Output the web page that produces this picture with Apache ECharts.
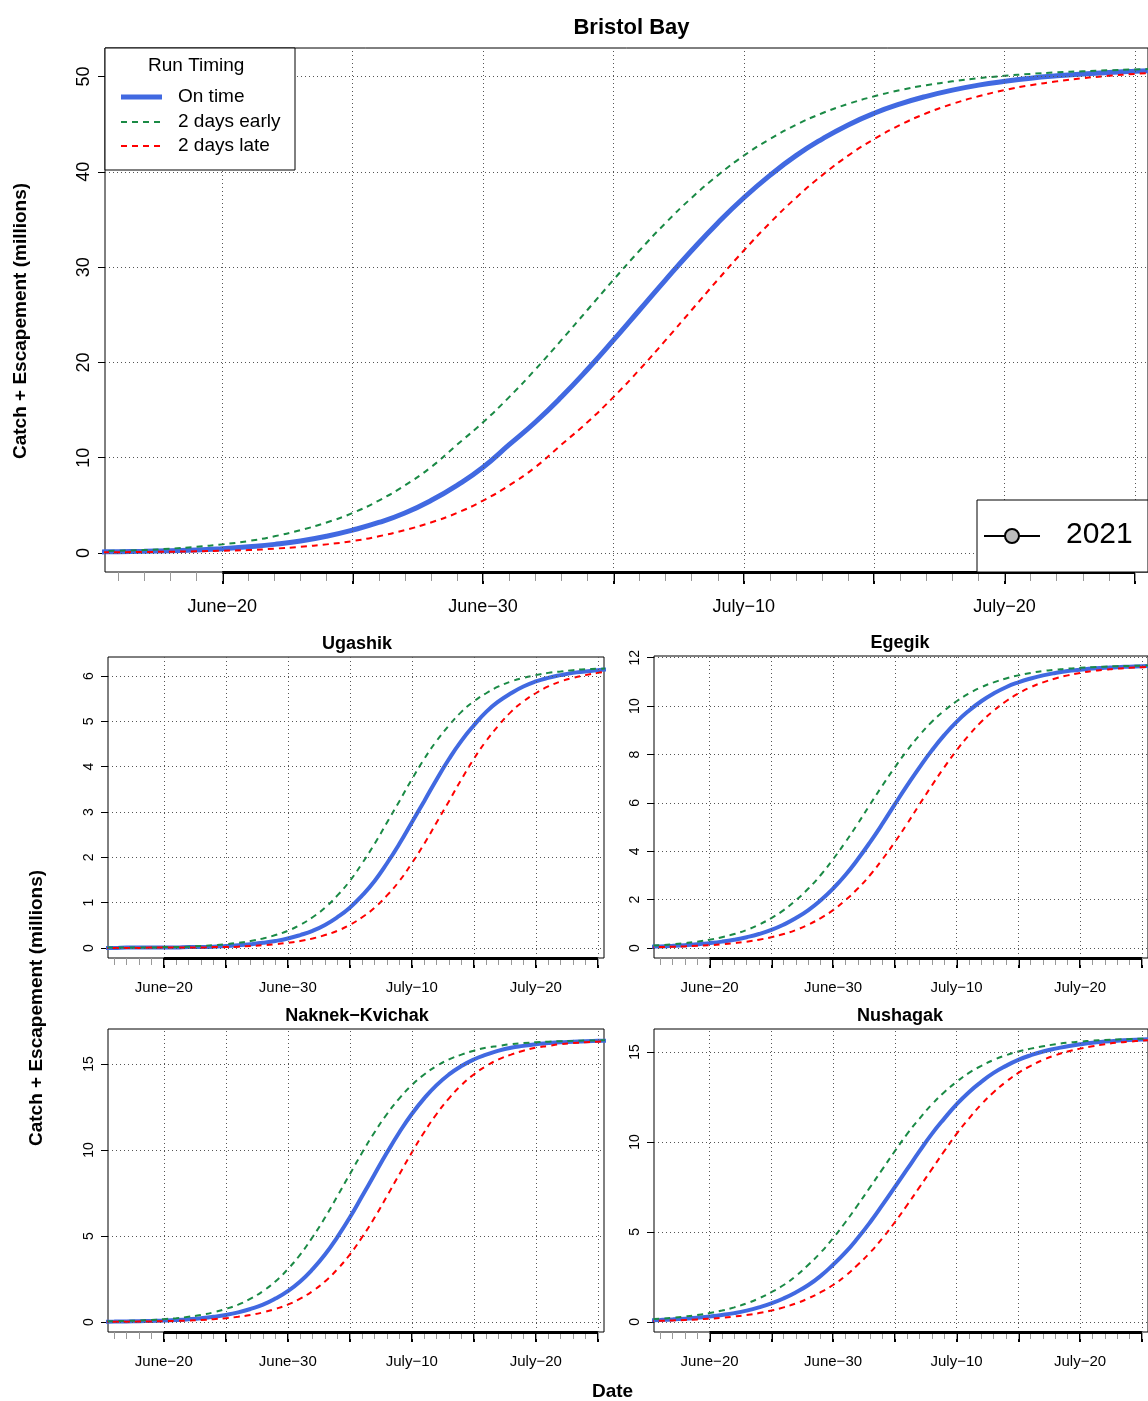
<!DOCTYPE html>
<html>
<head>
<meta charset="utf-8">
<script src="https://cdn.jsdelivr.net/npm/echarts@6/dist/echarts.min.js"></script>
<style>html,body{margin:0;padding:0;background:#fff}#main{width:1148px;height:1401px}</style>
</head>
<body>
<div id="main"></div>
<script>
// days relative to June 20 (0 = June 20)
var days = [-7,-6,-5,-4,-3,-2,-1,0,1,2,3,4,5,6,7,8,9,10,11,12,13,14,15,16,17,18,19,20,21,22,23,24,25,26,27,28,29,30,31,32,33,34,35,36,37,38];
var earlyShift = -2, lateShift = 2;
var dayLabels = ['June\u221220', 'June\u221230', 'July\u221210', 'July\u221220'];
var labelDays = [0, 10, 20, 30];

// on-time cumulative catch + escapement (millions)
var bristol = [0.06,0.08,0.10,0.13,0.17,0.23,0.30,0.45,0.65,0.90,1.25,1.75,2.40,3.20,4.20,5.50,7.10,9.00,11.36,13.72,16.36,19.25,22.33,25.50,28.67,31.74,34.64,37.28,39.63,41.70,43.44,44.93,46.15,47.13,47.93,48.58,49.10,49.50,49.83,50.08,50.28,50.44,50.56,50.66,50.75,50.82];
var ugashik = [0,0,0,0,0.01,0.01,0.01,0.01,0.01,0.02,0.02,0.03,0.046,0.062,0.085,0.115,0.155,0.21,0.286,0.38,0.51,0.68,0.89,1.16,1.48,1.87,2.30,2.77,3.24,3.72,4.17,4.57,4.91,5.21,5.44,5.62,5.77,5.88,5.96,6.02,6.07,6.10,6.13,6.15,6.16,6.17];
var egegik = [0.031,0.041,0.054,0.070,0.092,0.120,0.157,0.205,0.266,0.347,0.45,0.58,0.75,0.97,1.24,1.57,1.98,2.46,3.02,3.67,4.38,5.14,5.94,6.72,7.47,8.17,8.80,9.35,9.81,10.20,10.52,10.78,10.98,11.14,11.27,11.37,11.45,11.50,11.55,11.58,11.61,11.63,11.65,11.66,11.67,11.68];
var naknek = [0.01,0.014,0.019,0.025,0.035,0.048,0.065,0.088,0.12,0.165,0.224,0.304,0.41,0.56,0.76,1.01,1.36,1.80,2.36,3.07,3.92,4.94,6.07,7.32,8.59,9.85,11.03,12.09,13.0,13.77,14.39,14.88,15.26,15.54,15.77,15.94,16.05,16.15,16.21,16.26,16.29,16.32,16.34,16.36,16.37,16.38];
var nushagak = [0.05,0.065,0.084,0.109,0.14,0.18,0.23,0.30,0.385,0.49,0.63,0.81,1.03,1.31,1.65,2.05,2.56,3.18,3.86,4.66,5.54,6.50,7.49,8.49,9.49,10.45,11.30,12.09,12.77,13.34,13.84,14.23,14.56,14.82,15.03,15.19,15.32,15.43,15.52,15.58,15.63,15.67,15.70,15.72,15.74,15.75];

var panels = [
  {name: 'Bristol Bay', vals: bristol, grid: {left: 105, top: 48, width: 1043, height: 524}, ymin: -2, ymax: 53, yticks: [0,10,20,30,40,50], big: true},
  {name: 'Ugashik', vals: ugashik, grid: {left: 108, top: 657, width: 496, height: 301}, ymin: -0.22, ymax: 6.42, yticks: [0,1,2,3,4,5,6]},
  {name: 'Egegik', vals: egegik, grid: {left: 654, top: 656, width: 496, height: 302}, ymin: -0.41, ymax: 12.07, yticks: [0,2,4,6,8,10,12]},
  {name: 'Naknek\u2212Kvichak', vals: naknek, grid: {left: 108, top: 1029, width: 496, height: 303}, ymin: -0.58, ymax: 17.03, yticks: [0,5,10,15]},
  {name: 'Nushagak', vals: nushagak, grid: {left: 654, top: 1029, width: 496, height: 303}, ymin: -0.56, ymax: 16.28, yticks: [0,5,10,15]}
];

var majorDays = [0,5,10,15,20,25,30,35];
var minorDays = [];
for (var d = -4; d <= 35; d++) minorDays.push(d);

var FONT = 'Liberation Sans';
var grids = [], xAxes = [], yAxes = [], series = [], titles = [];

function pairs(shift, vals) {
  return days.map(function (d, i) { return [d + shift, vals[i]]; });
}

panels.forEach(function (p, k) {
  var g = Object.assign({show: true, borderColor: '#000', borderWidth: 1, backgroundColor: 'transparent'}, p.grid);
  grids.push(g);
  var fs = p.big ? 18 : 15;
  // major ticks + labels
  xAxes.push({
    type: 'value', gridIndex: k, min: -4.5, max: 35.5, position: 'bottom',
    axisLine: {show: false, onZero: false}, splitLine: {show: false},
    axisTick: {show: true, customValues: majorDays, length: p.big ? 12 : 10, lineStyle: {color: '#000', width: 2}},
    axisLabel: {customValues: labelDays, formatter: function (v) { return dayLabels[labelDays.indexOf(v)]; },
      fontFamily: FONT, fontSize: fs, color: '#000', margin: p.big ? 26 : 22}
  });
  // minor daily ticks
  xAxes.push({
    type: 'value', gridIndex: k, min: -4.5, max: 35.5, position: 'bottom',
    axisLine: {show: false, onZero: false}, splitLine: {show: false}, axisLabel: {show: false},
    axisTick: {show: true, customValues: minorDays, length: p.big ? 9 : 7, lineStyle: {color: '#999', width: 1}}
  });
  yAxes.push({
    type: 'value', gridIndex: k, min: p.ymin, max: p.ymax, position: 'left',
    axisLine: {show: false, onZero: false}, splitLine: {show: false},
    axisTick: {show: true, customValues: p.yticks, length: 7, lineStyle: {color: '#000'}},
    axisLabel: {customValues: p.yticks, rotate: 90, fontFamily: FONT, fontSize: p.big ? 18 : 14, color: '#000', margin: 12}
  });
  var xi = k * 2;
  var grey = {type: [1, 3], color: '#555', width: 1};
  series.push({
    type: 'line', xAxisIndex: xi, yAxisIndex: k, data: [], silent: true,
    markLine: {
      silent: true, symbol: 'none', label: {show: false}, animation: false,
      lineStyle: grey,
      data: majorDays.map(function (v) { return {xAxis: v}; })
        .concat(p.yticks.map(function (v) { return {yAxis: v}; }))
        .concat([[{coord: [0, p.ymin], lineStyle: {type: 'solid', color: '#000', width: 3}}, {coord: [35, p.ymin]}]])
    }
  });
  var lw = p.big ? 5 : 4;
  series.push({type: 'line', xAxisIndex: xi, yAxisIndex: k, data: pairs(0, p.vals), showSymbol: false, smooth: true,
    lineStyle: {color: '#4169E1', width: lw}, z: 3});
  series.push({type: 'line', xAxisIndex: xi, yAxisIndex: k, data: pairs(earlyShift, p.vals), showSymbol: false, smooth: true,
    lineStyle: {color: '#1a8a45', width: 2, type: [6, 5]}, z: 4});
  series.push({type: 'line', xAxisIndex: xi, yAxisIndex: k, data: pairs(lateShift, p.vals), showSymbol: false, smooth: true,
    lineStyle: {color: '#ff0000', width: 2, type: [6, 5]}, z: 4});
  titles.push({
    text: p.name, left: p.grid.left + p.grid.width / 2 - (k === 2 || k === 4 ? 3 : 0) - (k > 0 ? 4 : 0), top: p.big ? 12 : p.grid.top - 27,
    textAlign: 'center',
    textStyle: {fontFamily: FONT, fontWeight: 'bold', fontSize: p.big ? 22 : 18, color: '#000'}
  });
});

var txt = function (x, y, s, size) {
  return {type: 'text', left: x, top: y, style: {text: s, fontFamily: FONT, fontSize: size, fill: '#000'}, z: 20};
};

var graphic = [
  // legend box
  {type: 'rect', shape: {x: 105, y: 48, width: 190, height: 122}, style: {fill: '#fff', stroke: '#000', lineWidth: 1}, z: 19},
  txt(148, 56, 'Run Timing', 19),
  {type: 'line', shape: {x1: 121, y1: 97, x2: 162, y2: 97}, style: {stroke: '#4169E1', lineWidth: 5}, z: 20},
  {type: 'line', shape: {x1: 121, y1: 122, x2: 162, y2: 122}, style: {stroke: '#1a8a45', lineWidth: 2, lineDash: [6, 5]}, z: 20},
  {type: 'line', shape: {x1: 121, y1: 146, x2: 162, y2: 146}, style: {stroke: '#ff0000', lineWidth: 2, lineDash: [6, 5]}, z: 20},
  txt(178, 87, 'On time', 19),
  txt(178, 112, '2 days early', 19),
  txt(178, 136, '2 days late', 19),
  // year box
  {type: 'rect', shape: {x: 977, y: 500, width: 171, height: 72}, style: {fill: '#fff', stroke: '#000', lineWidth: 1}, z: 19},
  {type: 'line', shape: {x1: 984, y1: 536, x2: 1040, y2: 536}, style: {stroke: '#000', lineWidth: 2}, z: 20},
  {type: 'circle', shape: {cx: 1012, cy: 536, r: 7}, style: {fill: '#bbb', stroke: '#000', lineWidth: 2}, z: 21},
  txt(1066, 520, '2021', 30),
  // axis titles
  {type: 'text', x: 11, y: 459, rotation: Math.PI / 2, style: {text: 'Catch + Escapement (millions)', fontFamily: FONT, fontSize: 19, fontWeight: 'bold', fill: '#000'}, z: 20},
  {type: 'text', x: 27, y: 1146, rotation: Math.PI / 2, style: {text: 'Catch + Escapement (millions)', fontFamily: FONT, fontSize: 19, fontWeight: 'bold', fill: '#000'}, z: 20},
  {type: 'text', left: 592, top: 1382, style: {text: 'Date', fontFamily: FONT, fontSize: 19, fontWeight: 'bold', fill: '#000'}, z: 20}
];

var chart = echarts.init(document.getElementById('main'));
chart.setOption({
  backgroundColor: '#fff',
  animation: false,
  title: titles,
  grid: grids,
  xAxis: xAxes,
  yAxis: yAxes,
  series: series,
  graphic: graphic
});
</script>
</body>
</html>
